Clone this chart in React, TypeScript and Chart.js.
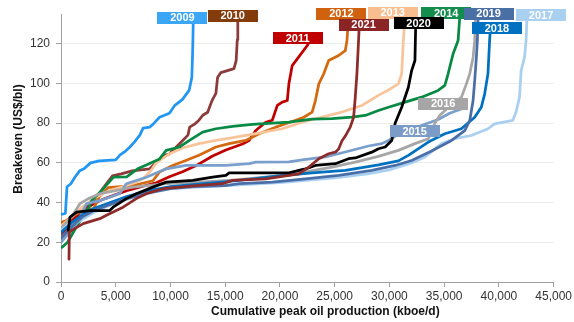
import { useEffect, useRef } from "react";
import { Chart, registerables } from "chart.js";

Chart.register(...registerables);

const FONT = '"Liberation Sans", Arial, Helvetica, sans-serif';

// Cumulative peak oil production (kboe/d) and breakeven (US$/bl), one supply curve per year
const x2009 = [0, 400, 550, 900, 1300, 1700, 2100, 2700, 3500, 5000, 5400, 5800, 6300, 6700, 7200, 7500, 8100, 8500, 9000, 9900, 10400, 11100, 11700, 11950, 12030, 12090];
const y2009 = [34, 34.5, 48, 49.5, 53, 56, 57, 60, 61, 61.5, 64, 65.5, 68, 70.5, 74, 77.5, 78, 80, 83, 85, 89, 92, 96.5, 103, 117, 134];

const x2010 = [0, 800, 1500, 2200, 3000, 3800, 4700, 5500, 6500, 8100, 9300, 9900, 10800, 11600, 11750, 12200, 12600, 12950, 13400, 13700, 13850, 14150, 14300, 14600, 15800, 16000, 16100, 16150];
const y2010 = [24, 28, 32, 37, 41, 47, 53.5, 54.5, 56, 57, 63.5, 64.5, 69.5, 74, 78, 79.5, 81.5, 84, 85.5, 90, 92, 95, 103, 105.5, 107.5, 111.5, 122, 134];

const x2011 = [0, 500, 1000, 2000, 3000, 4000, 5000, 6000, 7000, 8000, 8700, 9900, 11100, 12300, 13850, 15060, 16570, 17180, 17790, 18700, 19300, 19760, 20210, 20670, 20820, 21120, 22480, 22700];
const y2011 = [25, 27, 31, 36, 39.5, 42, 44, 46, 47.5, 49, 50, 53, 55.5, 58.5, 63.5, 66.5, 69.5, 71.3, 76.3, 80.5, 81.5, 89, 90.6, 91.4, 100, 109, 119, 121];

const x2012 = [0, 500, 1000, 2000, 3000, 3500, 4300, 6500, 8400, 9000, 10200, 11400, 12600, 14150, 15360, 16880, 18090, 19610, 20520, 21430, 22180, 22940, 23240, 23550, 24000, 24450, 25360, 25970, 26120, 26270];
const y2012 = [30, 31, 33, 36, 37, 43, 47.5, 48.5, 51, 55.4, 58.7, 61.2, 63.8, 68, 69.7, 71.3, 74.7, 78, 79.7, 81.4, 83, 85.6, 91.4, 99.8, 104.9, 111.6, 114.1, 116.6, 121.6, 133];

const x2013 = [0, 1000, 2000, 3000, 4000, 5000, 6500, 7500, 8200, 8700, 9900, 11100, 12600, 14150, 15970, 17790, 20210, 22030, 24150, 25660, 27480, 28990, 30000, 30820, 31120, 31270, 31430];
const y2013 = [28, 33, 38, 42, 45, 47, 49.5, 52, 56, 60, 64.5, 67.5, 69.7, 71.3, 73, 74.7, 77.2, 80.5, 83.5, 85.6, 88.9, 94, 97, 99.8, 104.9, 121.6, 134];

const x2014 = [100, 600, 1400, 2000, 2600, 2800, 3700, 4800, 6000, 7000, 8000, 9000, 9610, 10820, 11730, 12940, 14150, 15660, 17480, 20820, 22940, 24760, 26570, 27790, 28990, 29910, 31430, 32940, 34450, 35060, 35360, 35820, 36270, 36430];
const y2014 = [17.5, 20, 27.7, 33, 38, 41, 46, 52.8, 53, 57, 59.5, 62, 66.3, 68, 71.3, 75.5, 77.2, 78.4, 79.4, 80.5, 82, 82.3, 83, 83.9, 86.4, 88, 90.6, 93.1, 96.5, 99, 104.9, 115, 121.6, 134];

const x2015 = [0, 1430, 2340, 3550, 5360, 5970, 7790, 9610, 11430, 15060, 17180, 17790, 20820, 22030, 24150, 25970, 28090, 29300, 29910, 31000, 33000, 34500, 35500, 36500, 37000];
const y2015 = [20, 29.4, 39.5, 41, 44.5, 49.5, 52.8, 57, 58.7, 58.7, 59.6, 60.4, 60.5, 61.5, 63, 65.5, 68.5, 69.7, 71.3, 75, 79, 82, 85, 87, 88];

const x2016 = [0, 1000, 1730, 2500, 3550, 5000, 6570, 9610, 12640, 16000, 20820, 24760, 26880, 28990, 30820, 32330, 33550, 34150, 34610, 35600, 36570, 37030, 37340, 37640, 37790, 37850];
const y2016 = [27, 33, 39.5, 42, 44.5, 46, 47.8, 49.5, 50.3, 51.5, 54, 57.9, 60.4, 63.3, 66.3, 69.7, 72.2, 80, 84, 89, 93, 99.8, 105, 113, 121.6, 134];

const x2017 = [0, 500, 1500, 3000, 5000, 7500, 10000, 15000, 20000, 25000, 28000, 30000, 32000, 33250, 34760, 35970, 37480, 39000, 39610, 41270, 41570, 41880, 42030, 42340, 42480, 42570];
const y2017 = [26, 28, 30, 35, 40, 44, 47, 48.5, 50, 52.5, 54.5, 56.5, 60, 63, 69.7, 72.2, 73.8, 77.2, 79.7, 81.4, 85.6, 93.1, 106.5, 113.2, 121.6, 134];

const x2018 = [0, 1000, 2000, 3000, 4500, 6000, 8000, 10000, 13000, 16000, 19910, 22940, 25970, 29000, 30820, 31730, 33550, 35060, 36570, 37790, 38390, 38700, 39000, 39150, 39200];
const y2018 = [25, 30, 34, 37, 40, 43, 46, 48, 49.5, 51, 53.5, 55, 56.2, 59, 61, 63.8, 70.5, 74.7, 77.2, 83, 88, 94.8, 104.9, 121.6, 126];

const x2019 = [0, 1000, 2000, 3000, 4500, 6000, 8000, 10000, 12000, 15000, 16270, 19300, 22330, 25360, 28390, 30520, 32030, 33850, 35670, 36880, 37340, 37640, 37790, 37940, 38030, 38100];
const y2019 = [22, 28, 33, 36, 39, 42, 45, 47, 48, 48.5, 49.5, 50.3, 52, 53.7, 56.2, 58.7, 61.2, 66, 71.3, 76.3, 81.4, 91.4, 101.5, 113, 121.6, 134];

const x2020 = [660, 820, 1430, 2640, 4450, 4760, 5970, 6880, 8390, 9610, 12030, 13850, 15060, 15360, 20820, 21730, 22330, 23240, 25060, 26270, 26880, 28390, 29000, 29610, 30210, 30520, 31120, 31730, 32030, 32330, 32390];
const y2020 = [26, 32.7, 35.2, 36, 36, 37.7, 42, 44.5, 47.8, 50.3, 51.2, 52.8, 53.7, 55, 55, 56.2, 57, 58.7, 59.6, 62.1, 62.5, 65.4, 67.1, 68, 71.3, 80, 88, 98.1, 106.5, 111.6, 127];

const x2021 = [730, 760, 970, 2030, 3550, 4150, 5670, 6880, 7790, 9300, 12640, 14760, 15660, 18700, 20820, 21730, 22640, 23550, 24450, 25060, 25360, 25660, 25970, 26420, 26730, 26880, 27030, 27180, 27250];
const y2021 = [11.5, 25, 26, 29.4, 31.9, 33.6, 37.7, 42, 44.5, 47, 48.7, 49.5, 51.2, 52, 53.7, 54.5, 57.9, 62.1, 64.6, 65.4, 67, 71, 73.5, 78, 83, 93.1, 104.9, 121.6, 130];

const YEARS = ["2009", "2010", "2011", "2012", "2013", "2014", "2015", "2016", "2017", "2018", "2019", "2020", "2021"];
const X_VALUES = [x2009, x2010, x2011, x2012, x2013, x2014, x2015, x2016, x2017, x2018, x2019, x2020, x2021];
const Y_VALUES = [y2009, y2010, y2011, y2012, y2013, y2014, y2015, y2016, y2017, y2018, y2019, y2020, y2021];

const X_TICKS = [0, 5000, 10000, 15000, 20000, 25000, 30000, 35000, 40000, 45000];
const Y_TICKS = [0, 20, 40, 60, 80, 100, 120];

// Line colours and tag fill colours per year
const LINE_COLORS = ["#2196F3", "#8C3A3A", "#C00000", "#D4690F", "#FAC49A", "#078A43", "#7B9FCD", "#A6A6A6", "#A9D0F0", "#0070C0", "#4A6FA8", "#000000", "#8E2B2B"];
const TAG_COLORS = ["#3AA6F5", "#843C0C", "#C00000", "#D0620F", "#F9BE90", "#138D4C", "#7C9CC8", "#A6A6A6", "#A9D0F0", "#0070C0", "#4A6FA5", "#000000", "#8B2525"];

// Where each year tag sits, in axis units
const TAG_X = [11090, 15680, 21610, 25620, 30300, 35180, 32300, 34910, 43850, 39820, 39050, 32660, 27640];
const TAG_Y = [133.1, 134.1, 122.7, 135.1, 135.6, 135.3, 76, 89.9, 134.3, 127.8, 135.1, 130.3, 129.7];

const X_TITLE = "Cumulative peak oil production (kboe/d)";
const Y_TITLE = "Breakeven (US$/bl)";

const yearTags = {
  id: "yearTags",
  afterDatasetsDraw(chart: any) {
    const { ctx } = chart;
    const xs = chart.scales.x;
    const ys = chart.scales.y;
    ctx.save();
    ctx.font = `bold 11px ${FONT}`;
    ctx.textAlign = "center";
    ctx.textBaseline = "middle";
    YEARS.forEach((year, i) => {
      const cx = xs.getPixelForValue(TAG_X[i]);
      const cy = ys.getPixelForValue(TAG_Y[i]);
      ctx.fillStyle = TAG_COLORS[i];
      ctx.fillRect(Math.round(cx - 25), Math.round(cy - 6), 50, 12);
      ctx.fillStyle = "#ffffff";
      ctx.fillText(year, cx, cy + 0.5);
    });
    ctx.restore();
  },
};

const axisTitles = {
  id: "axisTitles",
  afterDraw(chart: any) {
    const { ctx, chartArea } = chart;
    ctx.save();
    ctx.font = `bold 12px ${FONT}`;
    ctx.fillStyle = "#111111";
    ctx.textAlign = "center";
    ctx.textBaseline = "middle";
    ctx.fillText(X_TITLE, (chartArea.left + chartArea.right) / 2 + 18, chartArea.bottom + 30);
    ctx.translate(19, (chartArea.top + chartArea.bottom) / 2 - 9);
    ctx.rotate(-Math.PI / 2);
    ctx.fillText(Y_TITLE, 0, 0);
    ctx.restore();
  },
};

export default function App() {
  const canvasRef = useRef<HTMLCanvasElement | null>(null);

  useEffect(() => {
    if (!canvasRef.current) return;
    // later years are listed first so they are drawn on top
    const datasets = YEARS.map((year, i) => ({
      label: year,
      data: X_VALUES[i].map((x, k) => ({ x, y: Y_VALUES[i][k] })),
      borderColor: LINE_COLORS[i],
      backgroundColor: LINE_COLORS[i],
      borderWidth: 2.75,
      pointRadius: 0,
      tension: 0,
      fill: false,
    })).reverse();

    const chart = new Chart(canvasRef.current, {
      type: "line",
      data: { datasets },
      options: {
        animation: false,
        responsive: false,
        layout: { padding: { top: 14, right: 18, left: 0, bottom: 0 } },
        plugins: { legend: { display: false }, tooltip: { enabled: false } },
        elements: { line: { borderJoinStyle: "round", borderCapStyle: "round" } },
        scales: {
          x: {
            type: "linear",
            min: X_TICKS[0],
            max: X_TICKS[X_TICKS.length - 1],
            bounds: "data",
            afterBuildTicks: (s: any) => {
              s.ticks = X_TICKS.map((value) => ({ value }));
            },
            afterFit: (s: any) => {
              s.height = 40;
            },
            ticks: {
              color: "#333333",
              font: { family: FONT, size: 12 },
              padding: 2,
              maxRotation: 0,
              autoSkip: false,
              callback: (v: any) => Number(v).toLocaleString("en-US"),
            },
            grid: { drawOnChartArea: false, drawTicks: true, tickLength: 5, color: "#A0A0A0" },
            border: { color: "#A0A0A0", width: 1 },
          },
          y: {
            type: "linear",
            min: 0,
            max: 135,
            bounds: "data",
            afterBuildTicks: (s: any) => {
              s.ticks = Y_TICKS.map((value) => ({ value }));
            },
            afterFit: (s: any) => {
              s.width = 61;
            },
            ticks: {
              color: "#333333",
              font: { family: FONT, size: 12 },
              padding: 6,
            },
            grid: { color: "#ECECEC", tickColor: "#A0A0A0", tickLength: 5, lineWidth: 1 },
            border: { color: "#A0A0A0", width: 1 },
          },
        },
      },
      plugins: [yearTags, axisTitles],
    } as any);

    return () => chart.destroy();
  }, []);

  return (
    <div style={{ position: "absolute", left: 0, top: 0, width: 574, height: 322, background: "#ffffff" }}>
      <canvas ref={canvasRef} width={574} height={322} style={{ display: "block" }} />
    </div>
  );
}
